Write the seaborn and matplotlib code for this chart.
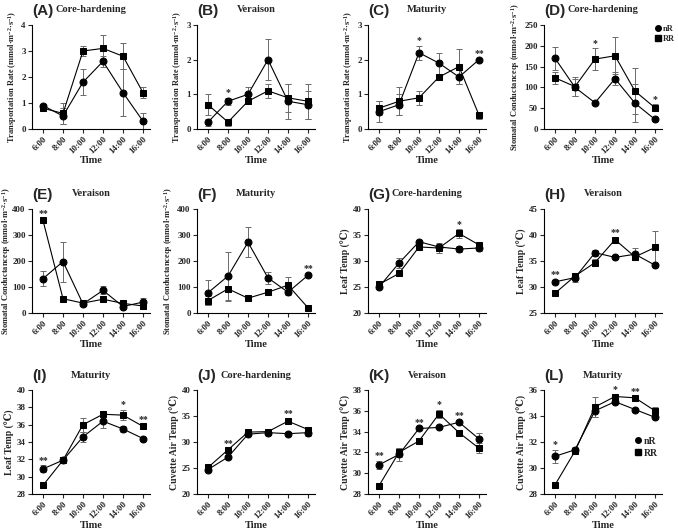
import matplotlib
matplotlib.use('Agg')
import matplotlib.pyplot as plt
import pandas as pd
import seaborn as sns
from matplotlib.lines import Line2D

times = ['6:00', '8:00', '10:00', '12:00', '14:00', '16:00']

# (A) transportation rate, core-hardening
a_nr = [0.9, 0.5, 1.8, 2.6, 1.4, 0.3]
a_nr_err = [0.05, 0.3, 0.5, 0.2, 0.9, 0.3]
a_rr = [0.8, 0.6, 3.0, 3.1, 2.8, 1.4]
a_rr_err = [0.05, 0.4, 0.2, 0.5, 0.5, 0.2]
# (B) transportation rate, veraison
b_nr = [0.2, 0.8, 1.0, 2.0, 0.8, 0.7]
b_nr_err = [0.1, 0.1, 0.2, 0.6, 0.5, 0.4]
b_rr = [0.7, 0.2, 0.8, 1.1, 0.9, 0.8]
b_rr_err = [0.3, 0.1, 0.05, 0.2, 0.4, 0.5]
# (C) transportation rate, maturity
c_nr = [0.5, 0.7, 2.2, 1.9, 1.5, 2.0]
c_nr_err = [0.3, 0.3, 0.2, 0.3, 0.2, 0.03]
c_rr = [0.6, 0.8, 0.9, 1.5, 1.8, 0.4]
c_rr_err = [0.2, 0.4, 0.2, 0.1, 0.5, 0.1]
# (D) stomatal conductance, core-hardening
d_nr = [170, 100, 63, 121, 62, 23]
d_nr_err = [28, 20, 3, 15, 45, 3]
d_rr = [123, 102, 168, 176, 91, 51]
d_rr_err = [15, 22, 26, 44, 55, 8]
# (E) stomatal conductance, veraison
e_nr = [132, 198, 35, 87, 25, 42]
e_nr_err = [28, 77, 5, 15, 10, 15]
e_rr = [356, 55, 38, 53, 37, 27]
e_rr_err = [5, 5, 5, 5, 5, 10]
# (F) stomatal conductance, maturity
f_nr = [78, 142, 272, 135, 80, 145]
f_nr_err = [48, 92, 57, 22, 10, 5]
f_rr = [48, 93, 57, 80, 107, 20]
f_rr_err = [18, 45, 5, 8, 32, 3]
# (G) leaf temp, core-hardening
g_nr = [25.0, 29.6, 33.7, 32.7, 32.3, 32.5]
g_nr_err = [0.3, 1.0, 0.3, 0.6, 0.6, 0.5]
g_rr = [25.5, 27.6, 32.7, 32.5, 35.3, 33.1]
g_rr_err = [0.3, 0.3, 0.5, 1.0, 0.8, 0.4]
# (H) leaf temp, veraison
h_nr = [31.0, 31.8, 36.6, 35.7, 36.3, 34.2]
h_nr_err = [0.4, 0.8, 0.6, 0.4, 1.2, 0.2]
h_rr = [28.8, 32.1, 34.7, 39.1, 35.8, 37.6]
h_rr_err = [0.2, 0.5, 0.7, 0.3, 0.5, 3.2]
# (I) leaf temp, maturity
i_nr = [30.9, 31.9, 34.6, 36.4, 35.5, 34.4]
i_nr_err = [0.4, 0.2, 0.6, 0.8, 0.3, 0.1]
i_rr = [29.0, 31.9, 36.0, 37.2, 37.1, 35.8]
i_rr_err = [0.3, 0.2, 0.8, 0.1, 0.6, 0.2]
# (J) cuvette air temp, core-hardening
j_nr = [24.7, 27.1, 31.5, 31.8, 31.6, 31.8]
j_nr_err = [0.3, 0.2, 0.3, 0.3, 0.3, 0.6]
j_rr = [25.1, 28.5, 31.9, 32.0, 34.0, 32.4]
j_rr_err = [0.3, 0.3, 0.3, 0.3, 0.4, 0.4]
# (K) cuvette air temp, veraison
k_nr = [30.8, 31.8, 34.3, 34.4, 34.9, 33.3]
k_nr_err = [0.4, 0.6, 0.1, 0.1, 0.1, 0.6]
k_rr = [28.8, 32.0, 33.1, 35.7, 33.9, 32.4]
k_rr_err = [0.2, 0.4, 0.2, 0.4, 0.1, 0.5]
# (L) cuvette air temp, maturity
l_nr = [30.9, 31.4, 34.4, 35.1, 34.5, 33.9]
l_nr_err = [0.5, 0.2, 0.5, 0.1, 0.1, 0.1]
l_rr = [28.7, 31.3, 34.7, 35.5, 35.4, 34.4]
l_rr_err = [0.1, 0.2, 0.8, 0.1, 0.1, 0.3]

# significance marks: (time index, text)
stars = {
    'B': [(1, '*')],
    'C': [(2, '*'), (5, '**')],
    'D': [(2, '*'), (5, '*')],
    'E': [(0, '**')],
    'F': [(5, '**')],
    'G': [(4, '*')],
    'H': [(0, '**'), (3, '**')],
    'I': [(0, '**'), (4, '*'), (5, '**')],
    'J': [(1, '**'), (4, '**')],
    'K': [(0, '**'), (2, '**'), (3, '*'), (4, '**')],
    'L': [(0, '*'), (3, '*'), (4, '**')],
}

tr_label = 'Transportation Rate (mmol·m$^{-2}$·s$^{-1}$)'
gs_label = 'Stomatal Conductanceqs (mmol·m$^{-2}$·s$^{-1}$)'
lt_label = 'Leaf Temp (℃)'
ct_label = 'Cuvette Air Temp (℃)'

panels = [
    ('A', 'Core-hardening', tr_label, a_nr, a_nr_err, a_rr, a_rr_err, (0, 4, 1)),
    ('B', 'Veraison', tr_label, b_nr, b_nr_err, b_rr, b_rr_err, (0, 3, 1)),
    ('C', 'Maturity', tr_label, c_nr, c_nr_err, c_rr, c_rr_err, (0, 3, 1)),
    ('D', 'Core-hardening', gs_label, d_nr, d_nr_err, d_rr, d_rr_err, (0, 250, 50)),
    ('E', 'Veraison', gs_label, e_nr, e_nr_err, e_rr, e_rr_err, (0, 400, 100)),
    ('F', 'Maturity', gs_label, f_nr, f_nr_err, f_rr, f_rr_err, (0, 400, 100)),
    ('G', 'Core-hardening', lt_label, g_nr, g_nr_err, g_rr, g_rr_err, (20, 40, 5)),
    ('H', 'Veraison', lt_label, h_nr, h_nr_err, h_rr, h_rr_err, (25, 45, 5)),
    ('I', 'Maturity', lt_label, i_nr, i_nr_err, i_rr, i_rr_err, (28, 40, 2)),
    ('J', 'Core-hardening', ct_label, j_nr, j_nr_err, j_rr, j_rr_err, (20, 40, 5)),
    ('K', 'Veraison', ct_label, k_nr, k_nr_err, k_rr, k_rr_err, (28, 38, 2)),
    ('L', 'Maturity', ct_label, l_nr, l_nr_err, l_rr, l_rr_err, (28, 36, 2)),
]

sns.set_style('ticks')
plt.rcParams['font.family'] = ['Liberation Serif', 'DejaVu Serif']
plt.rcParams['font.weight'] = 'bold'
plt.rcParams['axes.labelweight'] = 'bold'
plt.rcParams['mathtext.fontset'] = 'custom'
plt.rcParams['mathtext.rm'] = 'Liberation Serif:bold'
plt.rcParams['mathtext.it'] = 'Liberation Serif:bold'
plt.rcParams['mathtext.bf'] = 'Liberation Serif:bold'

fig = plt.figure(figsize=(6.78, 5.32), dpi=100)

col_left = [32, 197, 368, 544]
row_bottom = [129, 313, 494]
ax_w, ax_h = 118, 104

for k, (letter, title, ylabel, nr, nr_err, rr, rr_err, yl) in enumerate(panels):
    r, c = divmod(k, 4)
    ax = fig.add_axes([col_left[c] / 678, 1 - row_bottom[r] / 532, ax_w / 678, ax_h / 532])

    pos = list(range(len(times)))
    df = pd.DataFrame({
        'pos': pos * 2,
        'value': nr + rr,
        'group': ['nR'] * len(pos) + ['RR'] * len(pos),
    })
    ax.errorbar(pos, nr, yerr=nr_err, fmt='none', ecolor='#6a6a6a', elinewidth=0.7,
                capsize=2, capthick=0.7, zorder=1)
    ax.errorbar(pos, rr, yerr=rr_err, fmt='none', ecolor='#6a6a6a', elinewidth=0.7,
                capsize=2, capthick=0.7, zorder=1)
    sns.lineplot(data=df, x='pos', y='value', style='group', markers={'nR': 'o', 'RR': 's'},
                 dashes=False, color='black', linewidth=0.8, markersize=5,
                 markeredgecolor='black', legend=False, ax=ax, zorder=3)

    for idx, txt in stars.get(letter, []):
        top = max(nr[idx] + nr_err[idx], rr[idx] + rr_err[idx])
        ax.annotate(txt, (idx, top), xytext=(0, 0.5), textcoords='offset points',
                    ha='center', va='bottom', fontsize=7)

    ax.set_xlim(-0.55, 5.35)
    ax.set_ylim(yl[0], yl[1])
    ax.set_yticks(range(yl[0], yl[1] + 1, yl[2]))
    ax.set_xticks(pos)
    ax.set_xticklabels(times, rotation=45, ha='right', rotation_mode='anchor')
    ax.tick_params(labelsize=6.5, length=3, width=0.8, pad=1.5)
    for lab in ax.get_xticklabels() + ax.get_yticklabels():
        lab.set_fontweight('bold')
    sns.despine(ax=ax)
    for s in ['left', 'bottom']:
        ax.spines[s].set_linewidth(0.8)
        ax.spines[s].set_color('black')
    ax.set_xlabel('Time', fontsize=7.5, labelpad=0)
    ysize = 7 if ylabel in (lt_label, ct_label) else 6
    ax.set_ylabel(ylabel, fontsize=ysize, labelpad=1.5)
    if letter == 'E':
        ax.yaxis.set_label_coords(-0.165, 0.5)
    ax.set_title(title, fontsize=7.5, fontweight='bold', pad=9)
    ax.text(0.0, 1.13, f'({letter})', transform=ax.transAxes, fontsize=11,
            fontweight='bold', family='Liberation Sans', ha='left', va='center')

    if letter in ('D', 'L'):
        handles = [Line2D([], [], color='black', marker='o', linestyle='none', markersize=4),
                   Line2D([], [], color='black', marker='s', linestyle='none', markersize=4)]
        if letter == 'D':
            ax.legend(handles, ['nR', 'RR'], loc='upper left', bbox_to_anchor=(0.9, 1.03),
                      frameon=False, fontsize=6, handletextpad=0.1, labelspacing=0.2,
                      borderaxespad=0, handlelength=1)
        else:
            ax.legend(handles, ['nR', 'RR'], loc='center left', bbox_to_anchor=(0.72, 0.45),
                      frameon=False, fontsize=7, handletextpad=0.1, labelspacing=0.3,
                      borderaxespad=0, handlelength=1)

fig.savefig('out.png', dpi=100)
